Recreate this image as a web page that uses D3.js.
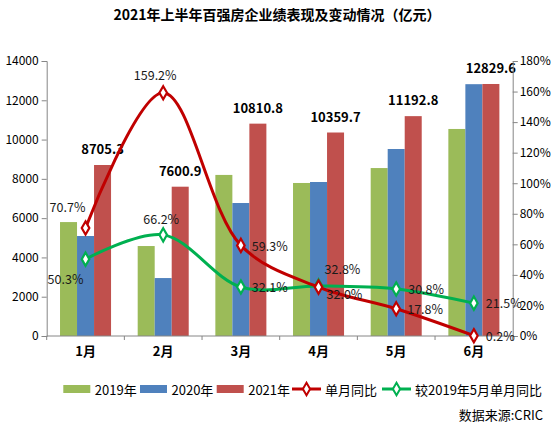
<!DOCTYPE html>
<html>
<head>
<meta charset="utf-8">
<script src="https://cdn.jsdelivr.net/npm/d3@7"></script>
<style>
  body { margin: 0; background: #fff; }
  svg text { font-family: "Noto Sans CJK SC", "Noto Sans", sans-serif; }
</style>
</head>
<body>
<div id="chart"></div>
<script>
// chart data
const months = ["1月", "2月", "3月", "4月", "5月", "6月"];
const seriesNames = ["2019年", "2020年", "2021年"];
const v2019 = [5800, 4580, 8200, 7790, 8550, 10540];
const v2020 = [5090, 2950, 6770, 7840, 9520, 12820];
const v2021 = [8705.3, 7600.9, 10810.8, 10359.7, 11192.8, 12829.6];
const yoy = [70.7, 159.2, 59.3, 32.0, 17.8, 0.2];        // 单月同比
const vs2019 = [50.3, 66.2, 32.1, 32.8, 30.8, 21.5];     // 较2019年5月单月同比
const leftTicks = [0, 2000, 4000, 6000, 8000, 10000, 12000, 14000];
const rightTicks = [0, 20, 40, 60, 80, 100, 120, 140, 160, 180];

const svgWidth = 554, svgHeight = 432;
const margin = { top: 61, left: 46.7, right: 41.3, bottom: 96 };
const width = svgWidth - margin.left - margin.right;
const height = svgHeight - margin.top - margin.bottom;

const barColors = ["#9BBB59", "#4F81BD", "#C0504D"];
const redLine = "#C00000", greenLine = "#00B050";

const svg = d3.select("#chart").append("svg")
    .attr("width", svgWidth)
    .attr("height", svgHeight);

svg.append("text")
    .attr("x", 277).attr("y", 20)
    .attr("text-anchor", "middle")
    .attr("font-size", 14).attr("font-weight", "bold")
    .text("2021年上半年百强房企业绩表现及变动情况（亿元）");

const chart = svg.append("g")
    .attr("transform", `translate(${margin.left},${margin.top})`);

const x = d3.scaleBand().domain(months).range([0, width]).padding(0);
const groupW = x.bandwidth() * 0.657;
const xs = d3.scaleBand().domain(seriesNames).range([0, groupW]);
const y = d3.scaleLinear().domain([0, 14000]).range([height, 0]);
const yr = d3.scaleLinear().domain([0, 180]).range([height, 0]);

// bars
const barData = [v2019, v2020, v2021];
months.forEach((m, i) => {
    const g = chart.append("g")
        .attr("transform", `translate(${x(m) + (x.bandwidth() - groupW) / 2},0)`);
    g.selectAll("rect")
        .data(seriesNames.map((s, j) => ({ s, v: barData[j][i], c: barColors[j] })))
        .join("rect")
        .attr("x", d => xs(d.s))
        .attr("width", xs.bandwidth())
        .attr("y", d => y(d.v))
        .attr("height", d => height - y(d.v))
        .attr("fill", d => d.c);
});

// bar labels (2021)
chart.selectAll(".barlabel")
    .data(v2021)
    .join("text")
    .attr("x", (d, i) => x(months[i]) + (x.bandwidth() - groupW) / 2 + xs("2021年") + xs.bandwidth() / 2)
    .attr("y", d => y(d) - 11)
    .attr("text-anchor", "middle")
    .attr("font-size", 13).attr("font-weight", "bold")
    .attr("fill", "#000")
    .text(d => d.toFixed(1));

// axes
const axisColor = "#868686";
const gl = chart.append("g")
    .call(d3.axisLeft(y).tickValues(leftTicks).tickSize(5).tickPadding(3).tickFormat(d3.format("d")));
const gr = chart.append("g")
    .attr("transform", `translate(${width},0)`)
    .call(d3.axisRight(yr).tickValues(rightTicks).tickSize(5).tickPadding(2).tickFormat(d => d + "%"));
const gx = chart.append("g")
    .attr("transform", `translate(0,${height})`)
    .call(d3.axisBottom(x).tickSize(0).tickPadding(11));
[gl, gr, gx].forEach(g => {
    g.select(".domain").attr("stroke", axisColor);
    g.selectAll(".tick line").attr("stroke", axisColor);
    g.selectAll("text").attr("font-size", 12).attr("fill", "#000")
        .attr("font-family", "\"Noto Sans CJK SC\", sans-serif");
});
gx.select(".domain").attr("d", `M0,0H${width}`);
gx.selectAll("text").attr("font-size", 13).attr("font-weight", "bold");
chart.append("g").attr("transform", `translate(0,${height})`)
    .selectAll("line")
    .data(d3.range(months.length + 1))
    .join("line")
    .attr("x1", i => i * x.step()).attr("x2", i => i * x.step())
    .attr("y1", 0).attr("y2", 4)
    .attr("stroke", axisColor);

// lines
const cx = i => x(months[i]) + x.bandwidth() / 2;
const line = d3.line()
    .x((d, i) => cx(i))
    .y(d => yr(d))
    .curve(d3.curveCatmullRom.alpha(0.5));

function drawSeries(vals, color, labelPos) {
    chart.append("path")
        .datum(vals)
        .attr("d", line)
        .attr("fill", "none")
        .attr("stroke", color)
        .attr("stroke-width", 3);
    chart.selectAll(null)
        .data(vals)
        .join("path")
        .attr("d", d3.symbol(d3.symbolDiamond, 50))
        .attr("transform", (d, i) => `translate(${cx(i)},${yr(d)})`)
        .attr("fill", "#fff")
        .attr("stroke", color)
        .attr("stroke-width", 2.2);
    chart.selectAll(null)
        .data(vals)
        .join("text")
        .attr("x", (d, i) => cx(i) + labelPos[i][0])
        .attr("y", (d, i) => yr(d) + labelPos[i][1])
        .attr("text-anchor", (d, i) => labelPos[i][2])
        .attr("dominant-baseline", "central")
        .attr("font-size", 12.5)
        .attr("fill", "#1a1a1a")
        .text(d => d.toFixed(1) + "%");
}

// label offsets [dx, dy, anchor]
const redPos = [[-18, -21, "middle"], [-8, -18, "middle"], [11, 0, "start"],
                [8, 6, "start"], [11, 0, "start"], [12, 0, "start"]];
const greenPos = [[-20, 19, "middle"], [-2, -16, "middle"], [11, 0, "start"],
                  [6, -17, "start"], [12, 0, "start"], [12, -1, "start"]];

drawSeries(vs2019, greenLine, greenPos);
drawSeries(yoy, redLine, redPos);

// legend
const legend = svg.append("g").attr("transform", "translate(0,389)");
const rectX = [63.3, 140, 216.7];
seriesNames.forEach((s, j) => {
    legend.append("rect").attr("x", rectX[j]).attr("y", -4).attr("width", 27).attr("height", 8)
        .attr("fill", barColors[j]);
    legend.append("text").attr("x", rectX[j] + 31.5).attr("y", 0)
        .attr("dominant-baseline", "central").attr("font-size", 13).text(s);
});
const lineItems = [
    { name: "单月同比", color: redLine, x: 292 },
    { name: "较2019年5月单月同比", color: greenLine, x: 382 }
];
lineItems.forEach(it => {
    legend.append("line").attr("x1", it.x).attr("x2", it.x + 29)
        .attr("y1", 0).attr("y2", 0)
        .attr("stroke", it.color).attr("stroke-width", 3);
    legend.append("path").attr("d", d3.symbol(d3.symbolDiamond, 45))
        .attr("transform", `translate(${it.x + 14.5},0)`)
        .attr("fill", "#fff").attr("stroke", it.color).attr("stroke-width", 2);
    legend.append("text").attr("x", it.x + 33).attr("y", 0)
        .attr("dominant-baseline", "central").attr("font-size", 13).text(it.name);
});

svg.append("text")
    .attr("x", 543).attr("y", 414)
    .attr("text-anchor", "end").attr("dominant-baseline", "central")
    .attr("font-size", 13)
    .text("数据来源:CRIC");
</script>
</body>
</html>
